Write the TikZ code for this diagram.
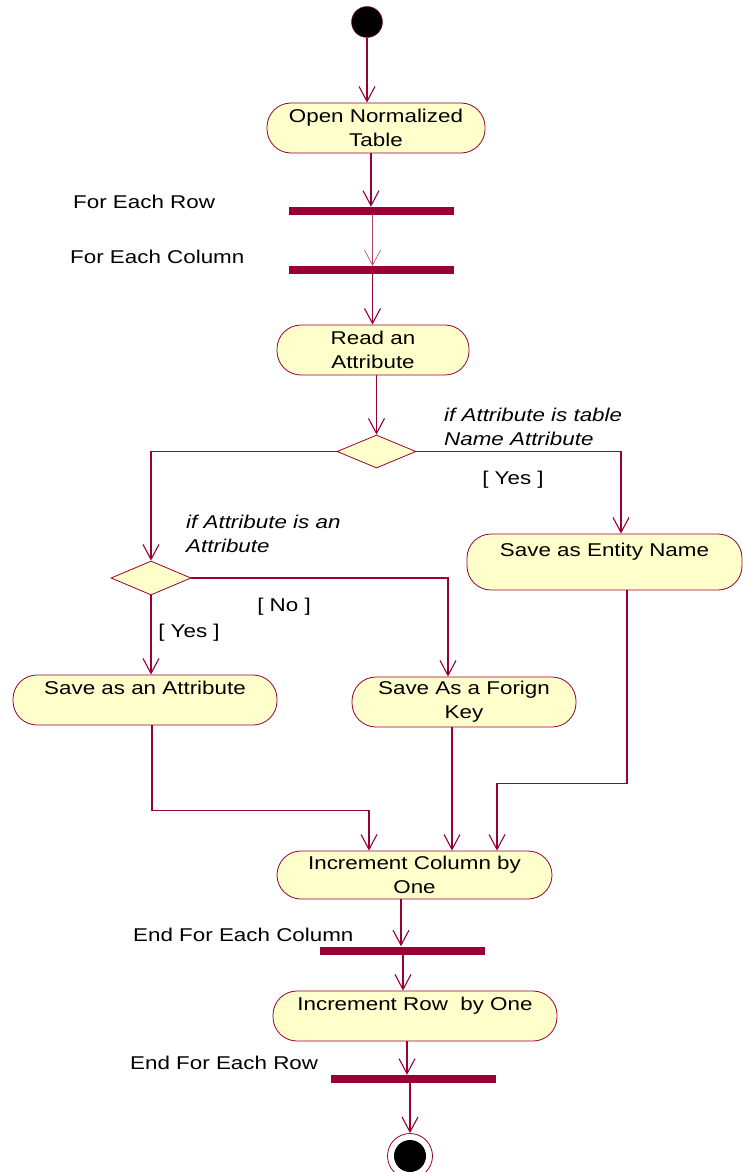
\documentclass[tikz,border=0pt]{standalone}
\usepackage{fontspec}
\setmainfont[FakeStretch=1.21]{Liberation Sans}
\usetikzlibrary{arrows.meta,shapes.geometric}
\definecolor{ln}{RGB}{153,0,51}
\definecolor{fl}{RGB}{255,255,204}
\newcommand\myfs{\fontsize{18.5}{24}\selectfont}
\begin{document}
\begin{tikzpicture}[x=1pt,y=-1pt,
  act/.style={draw=ln, fill=fl, rounded corners=24pt, inner sep=0pt, align=center, font=\myfs, line width=0.8pt},
  barnode/.style={fill=ln, inner sep=0pt, minimum width=165pt, minimum height=8pt},
  dec/.style={diamond, draw=ln, fill=fl, inner sep=0pt, line width=0.8pt},
  lbl/.style={inner sep=0pt, font=\myfs, align=left},
  flow/.style={draw=ln, line width=1.1pt, -{Straight Barb[length=15pt,width=16pt]}},
  thinflow/.style={draw=ln!75, line width=0.6pt, -{Straight Barb[length=15pt,width=16pt]}}]
\useasboundingbox (0,0) rectangle (743,1172);
% nodes
\node[circle, fill=black, draw=ln, minimum size=31pt, inner sep=0pt] (start) at (367,22) {};
\node[act, minimum width=218pt, minimum height=50pt] (open) at (376,128) {Open Normalized\\Table};
\node[barnode] (bar1) at (371.5,211) {};
\node[barnode] (bar2) at (371.5,270) {};
\node[act, minimum width=192pt, minimum height=50pt] (read) at (373,350) {Read an\\Attribute};
\node[dec, minimum width=79pt, minimum height=33pt] (d1) at (376.5,451.5) {};
\node[act, minimum width=275pt, minimum height=56pt] (entity) at (604.5,562) {Save as Entity Name\\\mbox{}};
\node[dec, minimum width=80pt, minimum height=34pt] (d2) at (151,578) {};
\node[act, minimum width=264pt, minimum height=50pt] (attr) at (145,700) {Save as an Attribute\\\mbox{}};
\node[act, minimum width=224pt, minimum height=50pt] (fk) at (464,702) {Save As a Forign\\Key};
\node[act, minimum width=275pt, minimum height=48pt] (inccol) at (414.5,875) {Increment Column by\\One};
\node[barnode] (bar3) at (402.5,950.5) {};
\node[act, minimum width=284pt, minimum height=50pt] (incrow) at (415,1016) {Increment Row\ \ by One\\\mbox{}};
\node[barnode] (bar4) at (413.5,1079) {};
\node[circle, draw=ln, fill=white, minimum size=45pt, inner sep=0pt, line width=0.8pt] (end) at (410,1156) {};
\node[circle, fill=black, minimum size=32pt, inner sep=0pt] (endin) at (end.center) {};
% labels
\node[lbl, anchor=west] (lrow) at (73,202) {For Each Row};
\node[lbl, anchor=west] (lcol) at (70,257) {For Each Column};
\node[lbl, anchor=west, font=\myfs\itshape] (c1) at (444,427) {if Attribute is table\\Name Attribute};
\node[lbl] (y1) at (513,480) {[ Yes ]};
\node[lbl, anchor=west, font=\myfs\itshape] (c2) at (186,534) {if Attribute is an\\Attribute};
\node[lbl] (n2) at (284,607) {[ No ]};
\node[lbl] (y2) at (189,633) {[ Yes ]};
\node[lbl, anchor=west] (ecol) at (133,935) {End For Each Column};
\node[lbl, anchor=west] (erow) at (130,1063) {End For Each Row};
% connectors
\draw[flow] (start.south) -- (start.south |- open.north);
\draw[flow] ([xshift=-5pt]open.south) -- ([xshift=-5pt]open.south |- bar1.north);
\draw[thinflow] ([xshift=1pt]bar1.south) -- ([xshift=1pt]bar1.south |- bar2.north);
\draw[flow] ([xshift=1pt]bar2.south) -- ([xshift=1pt]bar2.south |- read.north);
\draw[flow] (read.south -| d1.north) -- (d1.north);
\draw[flow] (d1.east) -| ([xshift=16.5pt]entity.north);
\draw[flow] (d1.west) -| (d2.north);
\draw[flow] (d2.east) -| ([xshift=-16pt]fk.north);
\draw[flow] (d2.south) -- (d2.south |- attr.north);
\draw[flow] ([xshift=7pt]attr.south) -- ++(0,85) -| ([xshift=-45.5pt]inccol.north);
\draw[flow] ([xshift=-12pt]fk.south) -- ([xshift=-12pt]fk.south |- inccol.north);
\draw[flow] ([xshift=22.5pt]entity.south) -- ++(0,193) -| ([xshift=82.5pt]inccol.north);
\draw[flow] ([xshift=-13.5pt]inccol.south) -- ([xshift=-13.5pt]inccol.south |- bar3.north);
\draw[flow] ([xshift=0.5pt]bar3.south) -- ([xshift=0.5pt]bar3.south |- incrow.north);
\draw[flow] ([xshift=-8pt]incrow.south) -- ([xshift=-8pt]incrow.south |- bar4.north);
\draw[flow] (bar4.south -| end.north) -- (end.north);
\end{tikzpicture}
\end{document}
